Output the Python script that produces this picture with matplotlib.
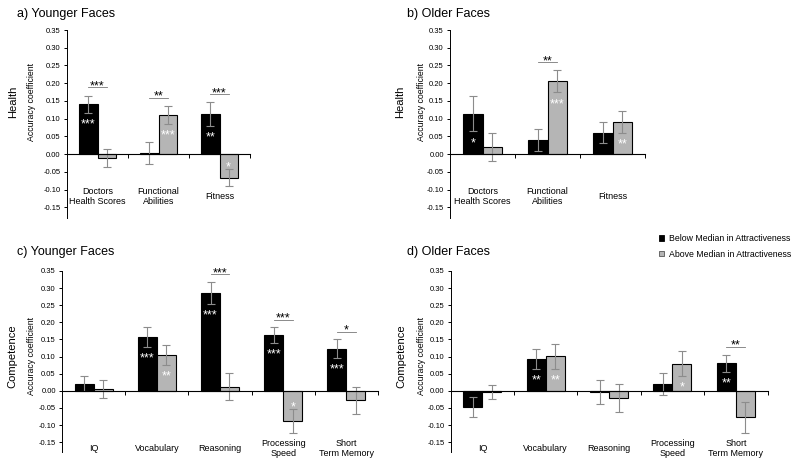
import numpy as np
import matplotlib
matplotlib.use("Agg")
import matplotlib.pyplot as plt
from matplotlib.patches import Patch
from matplotlib.ticker import FormatStrFormatter

plt.rcParams['font.family'] = ['Liberation Sans', 'DejaVu Sans']
plt.rcParams['axes.unicode_minus'] = False

health_cats = ['Doctors\nHealth Scores', 'Functional\nAbilities', 'Fitness']
comp_cats = ['IQ', 'Vocabulary', 'Reasoning', 'Processing\nSpeed', 'Short\nTerm Memory']

# a) Younger faces - health
a_below = [0.141, 0.004, 0.113]
a_below_err = [0.024, 0.031, 0.033]
a_above = [-0.011, 0.111, -0.066]
a_above_err = [0.025, 0.025, 0.025]
a_below_sig = ['***', '', '**']
a_above_sig = ['', '***', '*']
a_diff_sig = ['***', '**', '***']

# b) Older faces - health
b_below = [0.114, 0.040, 0.061]
b_below_err = [0.050, 0.030, 0.030]
b_above = [0.021, 0.205, 0.091]
b_above_err = [0.040, 0.031, 0.030]
b_below_sig = ['*', '', '']
b_above_sig = ['', '***', '**']
b_diff_sig = ['', '**', '']

# c) Younger faces - competence
c_below = [0.021, 0.157, 0.285, 0.162, 0.123]
c_below_err = [0.021, 0.029, 0.032, 0.023, 0.027]
c_above = [0.006, 0.104, 0.012, -0.088, -0.028]
c_above_err = [0.027, 0.030, 0.039, 0.035, 0.039]
c_below_sig = ['', '***', '***', '***', '***']
c_above_sig = ['', '**', '', '*', '']
c_diff_sig = ['', '', '***', '***', '*']

# d) Older faces - competence
d_below = [-0.047, 0.093, -0.003, 0.020, 0.080]
d_below_err = [0.028, 0.028, 0.034, 0.032, 0.025]
d_above = [-0.003, 0.101, -0.022, 0.079, -0.077]
d_above_err = [0.021, 0.036, 0.041, 0.036, 0.045]
d_below_sig = ['', '**', '', '', '**']
d_above_sig = ['', '**', '', '*', '']
d_diff_sig = ['', '', '', '', '**']

GRAY = '#b5b5b5'
ERR = dict(ecolor='#8c8c8c', elinewidth=0.8, capsize=3, capthick=0.8)
TICK_FONT = ['Liberation Sans Narrow', 'Liberation Sans', 'DejaVu Sans']


def draw_panel(ax, cats, below, below_err, above, above_err,
               below_sig, above_sig, diff_sig, label_y):
    x = np.arange(len(cats)) + 0.5
    w = 0.3
    ax.bar(x - w / 2, below, w, color='black', edgecolor='black', lw=0.8,
           yerr=below_err, error_kw=ERR, zorder=2)
    ax.bar(x + w / 2, above, w, color=GRAY, edgecolor='black', lw=0.8,
           yerr=above_err, error_kw=ERR, zorder=2)

    for i in range(len(cats)):
        pairs = ((x[i] - w / 2, below[i], below_err[i], below_sig[i]),
                 (x[i] + w / 2, above[i], above_err[i], above_sig[i]))
        for xi, v, e, s in pairs:
            if not s:
                continue
            if v > 0:
                yb = v - e - 0.042
            else:
                yb = v + e - 0.005
            ax.text(xi, yb, s, color='white', ha='center', va='baseline',
                    fontsize=9, zorder=4)
        if diff_sig[i]:
            top = max(below[i] + below_err[i], above[i] + above_err[i]) + 0.023
            ax.plot([x[i] - w / 2, x[i] + w / 2], [top, top], color='#777777',
                    lw=0.6, zorder=3)
            ax.text(x[i], top - 0.005, diff_sig[i], ha='center', va='baseline',
                    fontsize=9)
        ax.text(x[i], label_y, cats[i], ha='center', va='center', fontsize=6.5,
                linespacing=1.15)

    ax.set_xlim(0, len(cats))
    ax.set_ylim(-0.18, 0.35)
    ax.set_yticks(np.round(np.arange(-0.15, 0.351, 0.05), 2))
    ax.yaxis.set_major_formatter(FormatStrFormatter('%.2f'))
    for lab in ax.get_yticklabels():
        lab.set_family(TICK_FONT)
    ax.tick_params(axis='y', labelsize=5.5, length=2.5, width=0.7, pad=2)
    ax.set_xticks(range(1, len(cats) + 1))
    ax.tick_params(axis='x', length=3, width=0.7, labelbottom=False)
    ax.spines['top'].set_visible(False)
    ax.spines['right'].set_visible(False)
    ax.spines['bottom'].set_position(('data', 0))
    ax.spines['bottom'].set_zorder(3)
    ax.spines['left'].set_linewidth(0.7)
    ax.spines['bottom'].set_linewidth(0.8)


fig = plt.figure(figsize=(8, 4.66), dpi=100)

ax_a = fig.add_axes([0.08375, 0.5322, 0.22875, 0.4034])
ax_b = fig.add_axes([0.5625, 0.5322, 0.24375, 0.4034])
ax_c = fig.add_axes([0.0775, 0.029, 0.395, 0.3895])
ax_d = fig.add_axes([0.5634, 0.029, 0.396, 0.3895])

draw_panel(ax_a, health_cats, a_below, a_below_err, a_above, a_above_err,
           a_below_sig, a_above_sig, a_diff_sig, -0.12)
draw_panel(ax_b, health_cats, b_below, b_below_err, b_above, b_above_err,
           b_below_sig, b_above_sig, b_diff_sig, -0.12)
draw_panel(ax_c, comp_cats, c_below, c_below_err, c_above, c_above_err,
           c_below_sig, c_above_sig, c_diff_sig, -0.167)
draw_panel(ax_d, comp_cats, d_below, d_below_err, d_above, d_above_err,
           d_below_sig, d_above_sig, d_diff_sig, -0.167)

# panel titles
fig.text(17 / 800, 1 - 14 / 466, 'a) Younger Faces', fontsize=9, va='center')
fig.text(407 / 800, 1 - 14 / 466, 'b) Older Faces', fontsize=9, va='center')
fig.text(17 / 800, 1 - 252 / 466, 'c) Younger Faces', fontsize=9, va='center')
fig.text(407 / 800, 1 - 252 / 466, 'd) Older Faces', fontsize=9, va='center')

# row labels
for xl, xa, yc in ((13, 31.5, 102), (400, 421, 102), (12, 31.5, 356), (401, 421.5, 356)):
    row = 'Health' if yc < 200 else 'Competence'
    fig.text(xl / 800, 1 - yc / 466, row, rotation=90, fontsize=8,
             ha='center', va='center')
    fig.text(xa / 800, 1 - yc / 466, 'Accuracy coefficient', rotation=90,
             fontsize=6.3, ha='center', va='center')

handles = [Patch(facecolor='black', edgecolor='black', lw=0.6),
           Patch(facecolor=GRAY, edgecolor='#555555', lw=0.6)]
fig.legend(handles, ['Below Median in Attractiveness', 'Above Median in Attractiveness'],
           loc='upper right', bbox_to_anchor=(0.997, 1 - 228 / 466), frameon=False,
           fontsize=6.3, handlelength=0.55, handleheight=0.55, handletextpad=0.6,
           labelspacing=0.75, borderpad=0.2)

fig.savefig('out.png', dpi=100)
